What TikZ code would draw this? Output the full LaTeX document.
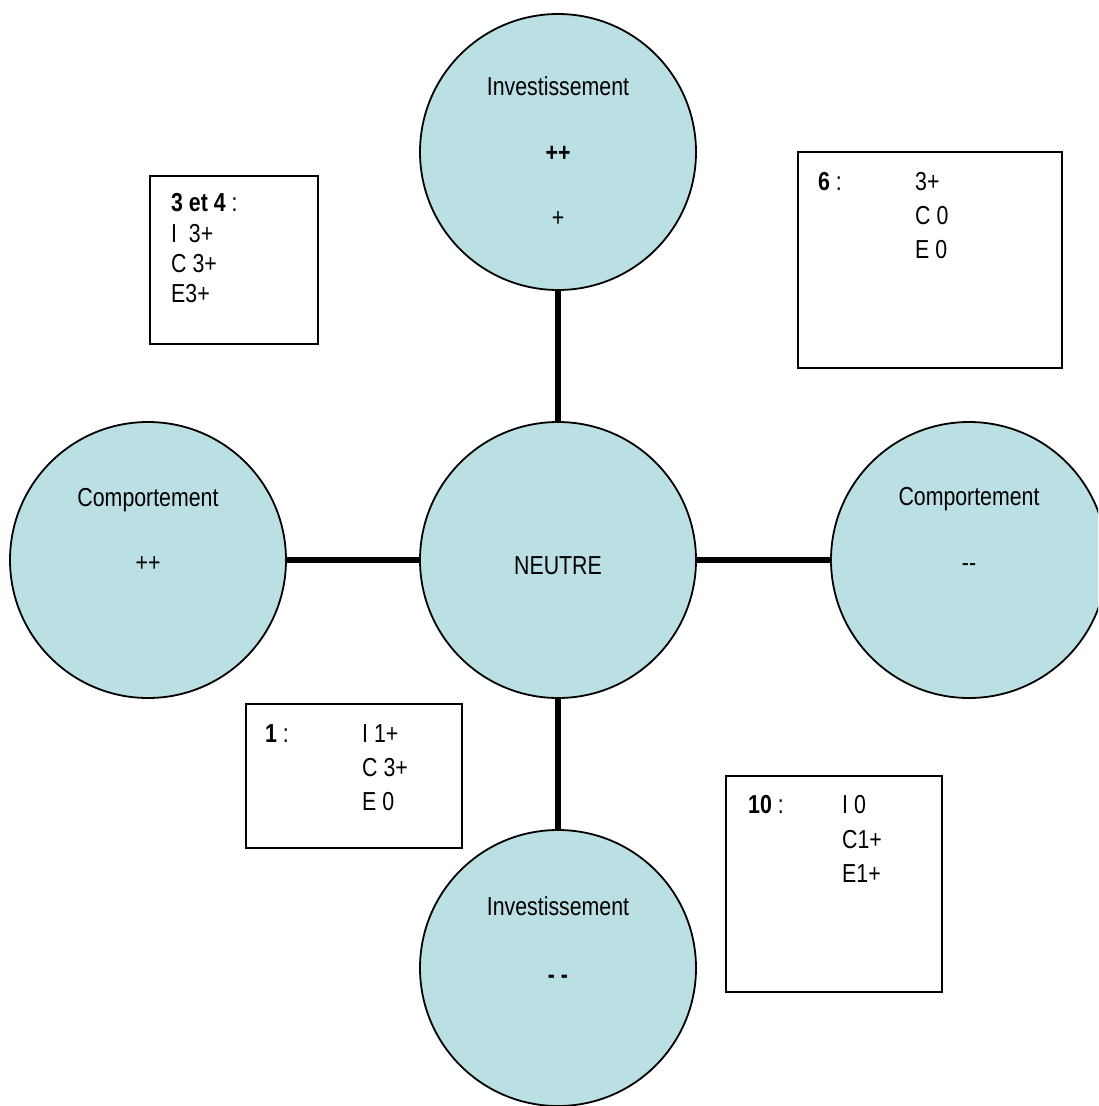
\documentclass[tikz,border=0pt]{standalone}
\usepackage{fontspec}
\setmainfont[FakeStretch=0.82]{Liberation Sans}
\definecolor{bubblefill}{RGB}{186,224,227}
\begin{document}
\begin{tikzpicture}[x=1pt,y=-1pt,
  bubble/.style={circle, draw, line width=1.8, fill=bubblefill, minimum size=276, inner sep=0},
  link/.style={line width=5.5},
  panel/.style={draw, line width=1.6, inner sep=0},
  txt/.style={anchor=base west, inner sep=0, font=\fontsize{26}{30}\selectfont},
  ctxt/.style={anchor=base, inner sep=0, font=\fontsize{26}{30}\selectfont}]
\useasboundingbox (0,0) rectangle (1098,1106);
\clip (0,0) rectangle (1098,1106);
% circles
\node[bubble] (top) at (558,152) {};
\node[bubble] (ctr) at (558,560) {};
\node[bubble] (lft) at (148,560) {};
\node[bubble] (rgt) at (969,560) {};
\node[bubble] (bot) at (558,968) {};
% connectors
\draw[link] (top) -- (ctr);
\draw[link] (lft) -- (ctr);
\draw[link] (ctr) -- (rgt);
\draw[link] (ctr) -- (bot);
% circle texts
\node[ctxt] (t1) at (558,95) {Investissement};
\node[ctxt] (t2) at (558,161) {\textbf{++}};
\node[ctxt] (t3) at (558,226) {+};
\node[ctxt] (l1) at (148,506) {Comportement};
\node[ctxt] (l2) at (148,571) {++};
\node[ctxt] (c1) at (558,574) {NEUTRE};
\node[ctxt] (r1) at (969,505) {Comportement};
\node[ctxt] (r2) at (969,571) {{-}{-}};
\node[ctxt] (b1) at (558,915) {Investissement};
\node[ctxt] (b2) at (558,983) {\textbf{{-} {-}}};
% boxes
\node[panel, minimum width=168, minimum height=168] (box34) at (234,260) {};
\node[panel, minimum width=264, minimum height=216] (box6) at (930,260) {};
\node[panel, minimum width=216, minimum height=144] (box1) at (354,776) {};
\node[panel, minimum width=216, minimum height=216] (box10) at (834,884) {};
% box 3 et 4
\node[txt] (a1) at (171,211) {\textbf{3 et 4} :};
\node[txt] (a2) at (171,242) {I\ \ 3+};
\node[txt] (a3) at (171,272) {C 3+};
\node[txt] (a4) at (171,302) {E3+};
% box 6
\node[txt] (s1) at (818,190) {\textbf{6} :};
\node[txt] (s2) at (915,190) {3+};
\node[txt] (s3) at (915,224) {C 0};
\node[txt] (s4) at (915,258) {E 0};
% box 1
\node[txt] (o1) at (265,742) {\textbf{1} :};
\node[txt] (o2) at (362,742) {I 1+};
\node[txt] (o3) at (362,776) {C 3+};
\node[txt] (o4) at (362,810) {E 0};
% box 10
\node[txt] (d1) at (748,813) {\textbf{10} :};
\node[txt] (d2) at (842,813) {I 0};
\node[txt] (d3) at (842,848) {C1+};
\node[txt] (d4) at (842,882) {E1+};
\end{tikzpicture}
\end{document}
